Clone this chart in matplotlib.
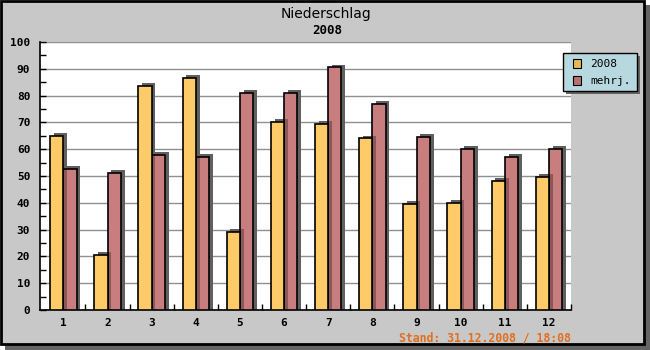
import matplotlib
matplotlib.use("Agg")
import matplotlib.pyplot as plt
import numpy as np
from matplotlib.patches import Rectangle

# monthly precipitation (mm)
months = ["1", "2", "3", "4", "5", "6", "7", "8", "9", "10", "11", "12"]
vals_2008 = [65, 20.5, 83.5, 86.5, 29, 70, 69.5, 64, 39.5, 40, 48, 49.5]
vals_mehrj = [52.5, 51, 58, 57, 81, 81, 90.5, 77, 64.5, 60, 57, 60]
series_names = ["2008", "mehrj."]
title = "Niederschlag"
subtitle = "2008"
stand = "Stand: 31.12.2008 / 18:08"

W, H = 650, 350
fig = plt.figure(figsize=(6.5, 3.5), dpi=100)
fig.patch.set_facecolor("white")

def fx(px):
    return px / W

def fy(py):
    return 1 - py / H

# frame with shadow
fig.patches.append(Rectangle((fx(5), fy(350)), 645 / W, 345 / H, transform=fig.transFigure,
                             facecolor="#646464", edgecolor="none", zorder=0))
fig.patches.append(Rectangle((fx(1), fy(344)), 643 / W, 343 / H, transform=fig.transFigure,
                             facecolor="#c8c8c8", edgecolor="black", lw=2, zorder=1))

ax = fig.add_axes([fx(40), fy(310), (571 - 40) / W, (310 - 42) / H])
ax.set_zorder(3)
ax.set_facecolor("white")

x = np.arange(1, 13)
a08 = np.array(vals_2008)
amj = np.array(vals_mehrj)
w = 0.30
sx, sy = 0.085, 1.1
yel = "#ffca68"
red = "#c87e7e"
shadow = "#606060"

# shadows first, then bars
ax.bar(x - w / 2 + sx, a08 + sy, w, color=shadow, zorder=2)
ax.bar(x + w / 2 + sx, amj + sy, w, color=shadow, zorder=2)
ax.bar(x + w / 2, amj, w, color=red, edgecolor="black", lw=1.2, zorder=3)
# part of the 2008 shadow falling on the mehrj. bar
ax.bar(x, np.minimum(a08 + sy, amj), sx, align="edge", color="black", alpha=0.3,
       lw=0, zorder=4)
ax.bar(x - w / 2, a08, w, color=yel, edgecolor="black", lw=1.2, zorder=5)

ax.set_xlim(1 - 0.53, 12 + 0.47)
ax.set_ylim(0, 100)
ax.set_yticks(np.arange(0, 101, 10))
ax.set_yticks(np.arange(5, 100, 10), minor=True)
ax.yaxis.grid(True, color="#909090", lw=1, zorder=1)
ax.set_axisbelow(True)
ax.set_xticks(x)
ax.set_xticklabels(months)
ax.set_xticks(x + 0.5, minor=True)
ax.tick_params(axis="x", which="major", length=0, pad=6)
ax.tick_params(axis="x", which="minor", direction="in", length=4, width=1)
ax.tick_params(axis="y", which="both", direction="in", length=4, width=1, pad=7)
for lab in ax.get_xticklabels() + ax.get_yticklabels():
    lab.set_fontfamily("DejaVu Sans Mono")
    lab.set_fontweight("bold")
    lab.set_fontsize(8)
ax.spines["top"].set_visible(False)
ax.spines["right"].set_visible(False)
ax.spines["left"].set_linewidth(1.2)
ax.spines["bottom"].set_linewidth(1.2)

fig.text(fx(326), fy(14), title, ha="center", va="center", fontsize=10)
fig.text(fx(327), fy(31), subtitle, ha="center", va="center", fontsize=9,
         fontweight="bold", family="DejaVu Sans Mono")
fig.text(fx(571), fy(338), stand, ha="right", va="center", fontsize=8.3,
         fontweight="bold", family="DejaVu Sans Mono", color="#e07020")

# legend box
fig.patches.append(Rectangle((fx(566), fy(94)), 74 / W, 38 / H, transform=fig.transFigure,
                             facecolor="#646464", edgecolor="none", zorder=5))
fig.patches.append(Rectangle((fx(563), fy(91)), 74 / W, 38 / H, transform=fig.transFigure,
                             facecolor="#b8d8e0", edgecolor="black", lw=1, zorder=6))
for name, col, py in zip(series_names, ["#e8b850", "#b87070"], [64, 81]):
    fig.patches.append(Rectangle((fx(573), fy(py + 4)), 8 / W, 9 / H, transform=fig.transFigure,
                                 facecolor=col, edgecolor="black", lw=0.8, zorder=7))
    fig.text(fx(590), fy(py), name, ha="left", va="center", fontsize=8,
             family="DejaVu Sans Mono", zorder=8)

fig.savefig("out.png", dpi=100, facecolor=fig.get_facecolor())
